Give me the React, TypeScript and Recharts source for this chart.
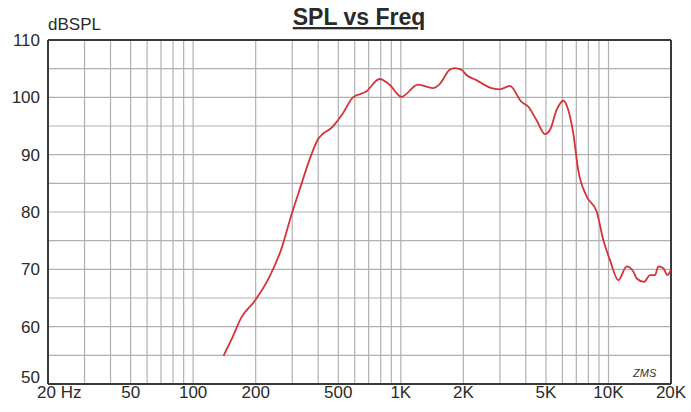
import { LineChart, Line, XAxis, YAxis, CartesianGrid, ReferenceLine } from 'recharts';

const freqs = [
  140, 155, 170, 197, 233, 265, 299, 325, 363, 398, 470, 526, 588, 681, 790, 883,
  1005, 1211, 1429, 1538, 1719, 1817, 1958, 2070, 2314, 2681, 2998, 3350, 3812,
  4104, 4505, 4944, 5225, 5627, 6059, 6404, 6768, 7151, 7852, 8772, 9445, 10170,
  11150, 12240, 13180, 13680, 14830, 15850, 16750, 17390, 18380, 19210, 19960,
];
const spl = [
  54.9, 58.2, 61.5, 64.4, 68.7, 73.4, 79.8, 83.8, 89.1, 92.6, 94.9, 97.2, 100.0, 101.0, 103.2, 102.2,
  100.1, 102.2, 101.6, 102.3, 104.8, 105.1, 104.8, 103.9, 103.0, 101.7, 101.4, 102.0, 99.2,
  98.4, 96.0, 93.6, 94.3, 97.8, 99.4, 97.8, 93.7, 87.3, 82.7, 80.1, 75.1, 71.6,
  68.1, 70.5, 69.6, 68.4, 67.8, 69.0, 69.0, 70.5, 70.2, 69.0, 69.9,
];

const freqGrid = [
  20, 30, 40, 50, 60, 70, 80, 90, 100, 200, 300, 400, 500, 600, 700, 800, 900,
  1000, 2000, 3000, 4000, 5000, 6000, 7000, 8000, 9000, 10000, 20000,
];
const freqLabels: Record<number, string> = {
  20: '20 Hz', 50: '50', 100: '100', 200: '200', 500: '500', 1000: '1K',
  2000: '2K', 5000: '5K', 10000: '10K', 20000: '20K',
};
const splTicks = [50, 55, 60, 65, 70, 75, 80, 85, 90, 95, 100, 105, 110];

const data = freqs.map((f, i) => ({ f, db: spl[i] }));

const font = '"Liberation Sans", Arial, sans-serif';

const FreqTick = (props: any) => {
  const { x, payload } = props;
  const label = freqLabels[payload.value];
  if (!label) return <g />;
  const isFirst = payload.value === 20;
  return (
    <text
      x={isFirst ? x - 11 : x}
      y={398}
      textAnchor={isFirst ? 'start' : 'middle'}
      fontSize={17}
      fontFamily={font}
      fill="#2a2a2a"
    >
      {label}
    </text>
  );
};

const SplTick = (props: any) => {
  const { y, payload } = props;
  if (payload.value % 10 !== 0) return <g />;
  const yy = payload.value === 50 ? y - 7 : y;
  return (
    <text x={40} y={yy + 6} textAnchor="end" fontSize={17} fontFamily={font} fill="#2a2a2a">
      {payload.value}
    </text>
  );
};

export default function App() {
  return (
    <div style={{ position: 'absolute', left: 0, top: 0, width: 691, height: 412, background: '#fff' }}>
      <LineChart width={691} height={412} data={data} margin={{ top: 40, right: 20, bottom: 0, left: 0 }}>
        <text x={359} y={25} textAnchor="middle" fontSize={23} fontWeight="bold" fontFamily={font} fill="#2a2a2a" textDecoration="underline">
          SPL vs Freq
        </text>
        <text x={48} y={30} fontSize={17} fontFamily={font} fill="#2a2a2a">
          dBSPL
        </text>
        <text x={633} y={377} fontSize={11} fontStyle="italic" fontFamily={font} fill="#333">
          ZMS
        </text>
        <CartesianGrid stroke="#b0b0b0" strokeWidth={1.2} />
        <XAxis
          dataKey="f"
          type="number"
          scale="log"
          domain={[20, 20000]}
          allowDataOverflow
          ticks={freqGrid}
          interval={0}
          height={28}
          tickLine={false}
          axisLine={{ stroke: '#3a3a3a', strokeWidth: 2 }}
          tick={<FreqTick />}
        />
        <YAxis
          type="number"
          domain={[50, 110]}
          ticks={splTicks}
          interval={0}
          width={48}
          tickLine={false}
          axisLine={{ stroke: '#3a3a3a', strokeWidth: 2 }}
          tick={<SplTick />}
        />
        <ReferenceLine y={110} stroke="#3a3a3a" strokeWidth={2} />
        <ReferenceLine x={20000} stroke="#3a3a3a" strokeWidth={2} />
        <Line
          type="monotone"
          dataKey="db"
          stroke="#d6323a"
          strokeWidth={1.8}
          dot={false}
          isAnimationActive={false}
        />
      </LineChart>
    </div>
  );
}
